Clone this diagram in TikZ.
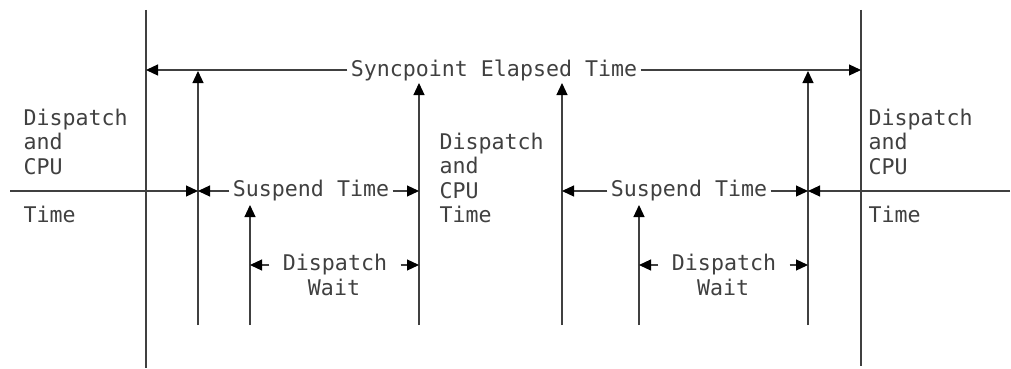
\documentclass[tikz,border=0pt]{standalone}
\usepackage{fontspec}
\newfontfamily\diagfont{DejaVu Sans Mono}
\usepackage{tikz}
\usetikzlibrary{arrows.meta}

\begin{document}
\begin{tikzpicture}[x=1pt,y=-1pt,line width=1.2pt,draw=black!75,
    tip/.style={-{Triangle[length=12pt,width=11pt,color=black]}},
    lbl/.style={font=\diagfont\fontsize{21.6}{24.5}\selectfont,text=black!75,inner xsep=3pt,inner ysep=0pt}]
    \useasboundingbox (0,0) rectangle (1011,369);
    % syncpoint boundaries
    \coordinate (LT) at (146,10);
    \coordinate (LB) at (146,368);
    \coordinate (RT) at (861,10);
    \coordinate (RB) at (861,366);
    \path [-](LT) edge (LB);
    \path [-](RT) edge (RB);
    % elapsed time
    \node[lbl] (sync) at (494,70) {Syncpoint Elapsed Time};
    \coordinate (SL) at (146,70);
    \coordinate (SR) at (861,70);
    \path [tip](sync) edge (SL);
    \path [tip](sync) edge (SR);
    % event arrows
    \coordinate (A1) at (198,325);
    \coordinate (A1t) at (198,71);
    \coordinate (A2) at (419,325);
    \coordinate (A2t) at (419,83);
    \coordinate (A3) at (562,325);
    \coordinate (A3t) at (562,83);
    \coordinate (A4) at (808,325);
    \coordinate (A4t) at (808,71);
    \coordinate (B1) at (250,325);
    \coordinate (B1t) at (250,205);
    \coordinate (B2) at (639,325);
    \coordinate (B2t) at (639,205);
    \path [tip](A1) edge (A1t);
    \path [tip](A2) edge (A2t);
    \path [tip](A3) edge (A3t);
    \path [tip](A4) edge (A4t);
    \path [tip](B1) edge (B1t);
    \path [tip](B2) edge (B2t);
    % suspend time
    \coordinate (ML) at (10,191);
    \coordinate (MR) at (1010,191);
    \coordinate (A1m) at (198,191);
    \coordinate (A2m) at (419,191);
    \coordinate (A3m) at (562,191);
    \coordinate (A4m) at (808,191);
    \node[lbl] (sus1) at (311,191) {Suspend Time};
    \node[lbl] (sus2) at (689,191) {Suspend Time};
    \path [tip](ML) edge (A1m);
    \path [tip](sus1) edge (A1m);
    \path [tip](sus1) edge (A2m);
    \path [tip](sus2) edge (A3m);
    \path [tip](sus2) edge (A4m);
    \path [tip](MR) edge (A4m);
    % dispatch wait
    \node[lbl,inner xsep=13pt] (dw1) at (335,265) {Dispatch};
    \node[lbl] (w1) at (334,287) {Wait};
    \node[lbl,inner xsep=13pt] (dw2) at (724,265) {Dispatch};
    \node[lbl] (w2) at (723,287) {Wait};
    \coordinate (B1m) at (250,265);
    \coordinate (A2w) at (419,265);
    \coordinate (B2m) at (639,265);
    \coordinate (A4w) at (808,265);
    \path [tip](dw1) edge (B1m);
    \path [tip](dw1) edge (A2w);
    \path [tip](dw2) edge (B2m);
    \path [tip](dw2) edge (A4w);
    % dispatch and cpu time
    \node[lbl,inner sep=0pt,align=left,anchor=north west] (cpu1) at (23,108) {Dispatch\\and\\CPU};
    \node[lbl,inner sep=0pt,anchor=base west] (t1) at (23,222) {Time};
    \node[lbl,inner sep=0pt,align=left,anchor=north west] (cpu2) at (439,132) {Dispatch\\and\\CPU\\Time};
    \node[lbl,inner sep=0pt,align=left,anchor=north west] (cpu3) at (868,108) {Dispatch\\and\\CPU};
    \node[lbl,inner sep=0pt,anchor=base west] (t3) at (868,222) {Time};
\end{tikzpicture}
\end{document}
